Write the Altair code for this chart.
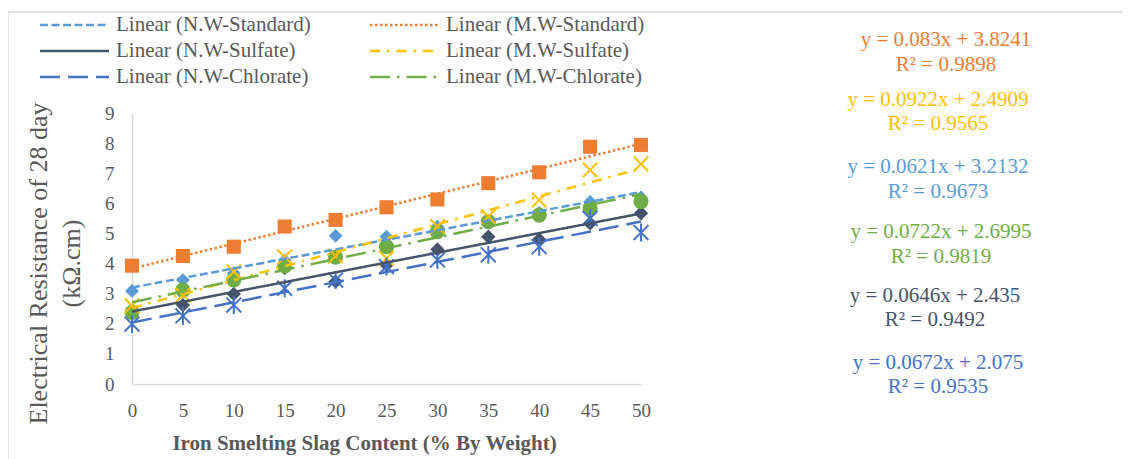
import altair as alt
import pandas as pd

# ---------------- data ----------------
slag_content = [0, 5, 10, 15, 20, 25, 30, 35, 40, 45, 50]
series_names = ["N.W-Standard", "M.W-Standard", "N.W-Sulfate",
                "M.W-Sulfate", "N.W-Chlorate", "M.W-Chlorate"]

nw_standard = [3.09, 3.45, 3.68, 4.10, 4.92, 4.89, 5.23, 5.39, 5.68, 6.05, 6.20]
mw_standard = [3.93, 4.25, 4.56, 5.23, 5.45, 5.87, 6.13, 6.67, 7.03, 7.88, 7.94]
nw_sulfate = [2.40, 2.62, 2.99, 3.85, 3.40, 3.95, 4.47, 4.89, 4.80, 5.34, 5.67]
mw_sulfate = [2.60, 2.95, 3.73, 4.22, 4.25, 4.17, 5.23, 5.56, 6.11, 7.11, 7.31]
nw_chlorate = [1.99, 2.26, 2.62, 3.18, 3.45, 3.90, 4.12, 4.29, 4.56, 5.50, 5.03]
mw_chlorate = [2.38, 3.12, 3.46, 3.92, 4.21, 4.56, 5.06, 5.39, 5.61, 5.84, 6.06]
series_values = [nw_standard, mw_standard, nw_sulfate, mw_sulfate, nw_chlorate, mw_chlorate]

slopes = [0.0621, 0.083, 0.0646, 0.0922, 0.0672, 0.0722]
intercepts = [3.2132, 3.8241, 2.435, 2.4909, 2.075, 2.6995]
r_squared = [0.9673, 0.9898, 0.9492, 0.9565, 0.9535, 0.9819]

# ---------------- styles ----------------
colors = ["#5B9BD5", "#ED7D31", "#44546A", "#FFC000", "#4472C4", "#70AD47"]
dashes = [[8, 3.5], [2.5, 2.5], [1, 0], [10, 7, 2.5, 7], [20, 8], [20, 7, 2.5, 7]]
shapes = ["diamond", "square", "diamond",
          "M-1,-1L1,1M-1,1L1,-1",
          "M-1,-1L1,1M-1,1L1,-1M0,-1.2L0,1.2",
          "circle"]
sizes = [190, 230, 190, 170, 160, 250]
stroked = ["M.W-Sulfate", "N.W-Chlorate"]

FONT = "Liberation Serif"
GRAY = "#595959"

rows = []
for name, vals in zip(series_names, series_values):
    for xv, yv in zip(slag_content, vals):
        rows.append({"x": xv, "value": yv, "series": name})
df = pd.DataFrame(rows)

x_enc = alt.X("x:Q",
              scale=alt.Scale(domain=[0, 50], nice=False),
              axis=alt.Axis(values=slag_content, grid=False, ticks=False,
                            labelFont=FONT, labelFontSize=19, labelColor=GRAY,
                            labelPadding=17, labelFlush=False, labelOverlap=False,
                            domainColor="#d9d9d9", domainWidth=1.5,
                            title="Iron Smelting Slag Content (% By Weight)",
                            titleFont=FONT, titleFontSize=21, titleFontWeight="bold",
                            titleColor=GRAY, titleX=232, titleY=59,
                            titleBaseline="middle", titleAlign="center"))
y_enc = alt.Y("value:Q",
              scale=alt.Scale(domain=[0, 9], nice=False),
              axis=alt.Axis(values=list(range(10)), grid=False, ticks=False,
                            labelFont=FONT, labelFontSize=19, labelColor=GRAY,
                            labelPadding=18, labelFlush=False,
                            domainColor="#d9d9d9", domainWidth=1.5,
                            title=["Electrical Resistance of 28 day", "(kΩ.cm)"],
                            titleFont=FONT, titleFontSize=26, titleFontWeight="normal",
                            titleColor=GRAY, titleAngle=270, titleX=-107, titleY=150,
                            titleBaseline="top", titleAlign="center",
                            titleLineHeight=33))

color_enc = alt.Color("series:N", scale=alt.Scale(domain=series_names, range=colors), legend=None)
shape_enc = alt.Shape("series:N", scale=alt.Scale(domain=series_names, range=shapes), legend=None)
size_enc = alt.Size("series:N", scale=alt.Scale(domain=series_names, range=sizes), legend=None)
dash_enc = alt.StrokeDash("series:N", scale=alt.Scale(domain=series_names, range=dashes), legend=None)

base = alt.Chart(df)

filled_pts = base.transform_filter(
    ~alt.FieldOneOfPredicate(field="series", oneOf=stroked)
).mark_point(filled=True, opacity=1).encode(
    x=x_enc, y=y_enc, color=color_enc, shape=shape_enc, size=size_enc)

stroked_pts = base.transform_filter(
    alt.FieldOneOfPredicate(field="series", oneOf=stroked)
).mark_point(filled=False, opacity=1, strokeWidth=2).encode(
    x=x_enc, y=y_enc, color=color_enc, shape=shape_enc, size=size_enc)

trend = base.transform_regression(
    "x", "value", groupby=["series"], extent=[0, 50]
).mark_line(strokeWidth=2.5).encode(
    x=x_enc, y=y_enc, color=color_enc, strokeDash=dash_enc)

one = pd.DataFrame({"k": [0]})
layers = [filled_pts, stroked_pts, trend]

# frame around chart area
layers.append(alt.Chart(one).mark_rule(color="#d9d9d9", strokeWidth=1.5).encode(
    x=alt.value(-124), x2=alt.value(991), y=alt.value(-101)))
layers.append(alt.Chart(one).mark_rule(color="#d9d9d9", strokeWidth=1.5).encode(
    x=alt.value(-124), y=alt.value(-101), y2=alt.value(346)))

# legend (trendlines)
row_y = [-88, -62, -36]
col_sym = [(-92, -23), (238, 306)]
col_lab = [-16, 314]
for i, name in enumerate(series_names):
    r, c = i // 2, i % 2
    layers.append(alt.Chart(one).mark_rule(
        color=colors[i], strokeWidth=2.5, strokeDash=dashes[i]).encode(
        x=alt.value(col_sym[c][0]), x2=alt.value(col_sym[c][1]), y=alt.value(row_y[r])))
    layers.append(alt.Chart(pd.DataFrame({"t": [f"Linear ({name})"]})).mark_text(
        font=FONT, fontSize=21, color=GRAY, align="left", baseline="middle").encode(
        text="t:N", x=alt.value(col_lab[c]), y=alt.value(row_y[r])))

# equations on the right
eq_order = [1, 3, 0, 5, 2, 4]
eq_pos = [(814, -73, -48), (806, -13, 11), (806, 54, 79),
          (809, 119, 144), (803, 183, 207), (806, 250, 274)]
for idx, (px, py1, py2) in zip(eq_order, eq_pos):
    lines = [f"y = {slopes[idx]}x + {intercepts[idx]}", f"R² = {r_squared[idx]}"]
    for txt, py in zip(lines, [py1, py2]):
        layers.append(alt.Chart(pd.DataFrame({"t": [txt]})).mark_text(
            font=FONT, fontSize=21, color=colors[idx], align="center", baseline="middle").encode(
            text="t:N", x=alt.value(px), y=alt.value(py)))

chart = alt.layer(*layers).properties(
    width=509, height=271,
    autosize=alt.AutoSizeParams(type="none"),
    padding={"left": 124, "top": 105, "right": 482, "bottom": 75},
    background="white",
).configure_view(stroke=None)

chart.save("out.html", embed_options={"renderer": "svg", "actions": False})
